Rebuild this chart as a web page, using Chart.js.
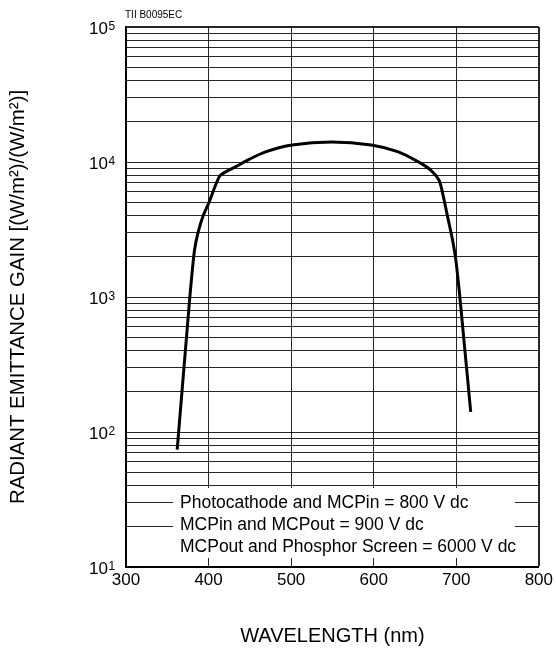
<!DOCTYPE html>
<html>
<head>
<meta charset="utf-8">
<script src="https://cdn.jsdelivr.net/npm/chart.js@4.4.1/dist/chart.umd.min.js"></script>
<style>
  html, body { margin: 0; padding: 0; background: #fff; }
</style>
</head>
<body>
<canvas id="gainChart" width="556" height="648"></canvas>
<script>
// --- data -------------------------------------------------------
const wavelengths = [362, 377, 380, 383, 387, 393, 400, 413, 419, 433, 449, 469, 501, 549,
                     597, 629, 653, 669, 679, 683.5, 689.5, 695.5, 699.5, 703.5, 707, 717.5];
const gain = [74, 950, 1500, 2230, 2965, 3935, 4940, 7785, 8340, 9230, 10450, 11900, 13360, 14060,
              13360, 11920, 10100, 8720, 7360, 5865, 3935, 2640, 1880, 1128, 676, 141];

const xTicks = [300, 400, 500, 600, 700, 800];
const yExponents = [1, 2, 3, 4, 5];
const yMinorSteps = [2, 3, 4, 5, 6, 7, 8, 9];

const legendLines = [
  'Photocathode and MCPin = 800 V dc',
  'MCPin and MCPout = 900 V dc',
  'MCPout and Phosphor Screen = 6000 V dc',
];
const xTitle = 'WAVELENGTH (nm)';
const yTitle = 'RADIANT EMITTANCE GAIN [(W/m\u00B2)/(W/m\u00B2)]';
const figureCode = 'TII B0095EC';

const FONT = '"Liberation Sans", Arial, Helvetica, sans-serif';
const GRID = 'rgba(0,0,0,0.85)';

// log grid: every 1..9 x 10^n
const yGridValues = [];
yExponents.forEach(e => {
  yGridValues.push(Math.pow(10, e));
  if (e < 5) yMinorSteps.forEach(m => yGridValues.push(m * Math.pow(10, e)));
});

// --- text that is not part of the axes ---------------------------
const annotations = {
  id: 'annotations',
  beforeDatasetsDraw(chart) {
    const { ctx } = chart;
    ctx.save();
    // white box behind the operating conditions
    ctx.fillStyle = '#fff';
    ctx.fillRect(173, 488, 342, 70);
    ctx.fillStyle = '#000';
    ctx.font = `17.5px ${FONT}`;
    ctx.textAlign = 'left';
    ctx.textBaseline = 'alphabetic';
    legendLines.forEach((t, i) => ctx.fillText(t, 180, 508 + i * 22));
    ctx.restore();
  },
  afterDraw(chart) {
    const { ctx } = chart;
    const y = chart.scales.y;
    const left = chart.chartArea.left;
    ctx.save();
    ctx.fillStyle = '#000';
    ctx.textBaseline = 'alphabetic';
    yExponents.forEach(e => {
      const py = y.getPixelForValue(Math.pow(10, e));
      ctx.font = `17px ${FONT}`;
      ctx.textAlign = 'right';
      ctx.fillText('10', left - 18, py + 7);
      ctx.font = `12px ${FONT}`;
      ctx.textAlign = 'left';
      ctx.fillText(String(e), left - 17.5, py + 3);
    });
    ctx.font = `10px ${FONT}`;
    ctx.fillText(figureCode, left - 1, 17.5);
    ctx.restore();
  }
};

new Chart(document.getElementById('gainChart'), {
  type: 'line',
  data: {
    datasets: [{
      data: wavelengths.map((w, i) => ({ x: w, y: gain[i] })),
      borderColor: '#000',
      borderWidth: 3,
      pointRadius: 0,
      fill: false,
      tension: 0.3,
    }]
  },
  options: {
    responsive: false,
    animation: false,
    layout: { padding: { top: 27, right: 14, left: 0, bottom: 0 } },
    plugins: {
      legend: { display: false },
      tooltip: { enabled: false },
    },
    scales: {
      x: {
        type: 'linear',
        min: 300, max: 800,
        afterBuildTicks: s => { s.ticks = xTicks.map(v => ({ value: v })); },
        afterFit: s => { s.height = 81; },
        grid: {
          color: GRID,
          lineWidth: c => (c.tick && c.tick.value === 800 ? 2 : 1),
          drawTicks: false,
        },
        border: { display: true, color: '#000', width: 2 },
        ticks: {
          color: '#000',
          font: { family: FONT, size: 17 },
          padding: 3,
          autoSkip: false,
          maxRotation: 0,
        },
        title: {
          display: true,
          text: xTitle,
          color: '#000',
          font: { family: FONT, size: 20 },
          padding: { top: 0, bottom: 0 },
        }
      },
      y: {
        type: 'logarithmic',
        min: 10, max: 100000,
        afterBuildTicks: s => { s.ticks = yGridValues.map(v => ({ value: v })); },
        afterFit: s => { s.width = 126; },
        grid: {
          color: GRID,
          lineWidth: c => (c.tick && c.tick.value === 100000 ? 2 : 1),
          drawTicks: false,
        },
        border: { display: true, color: '#000', width: 2 },
        ticks: { display: false, autoSkip: false },
        title: {
          display: true,
          text: yTitle,
          color: '#000',
          font: { family: FONT, size: 20.4 },
          padding: { top: 6, bottom: 0 },
        }
      }
    }
  },
  plugins: [annotations]
});
</script>
</body>
</html>
